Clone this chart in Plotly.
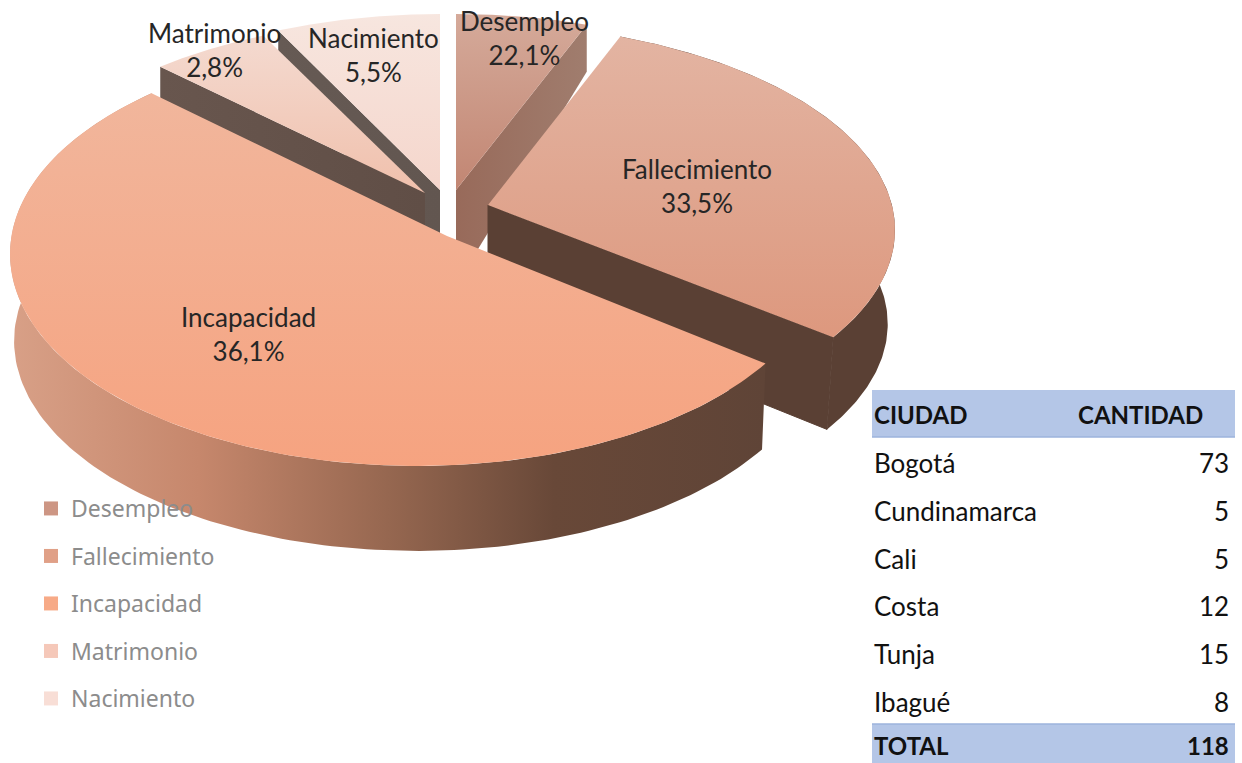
import numpy as np
import plotly.graph_objects as go

# ---- data ----
categories = ["Desempleo", "Fallecimiento", "Incapacidad", "Matrimonio", "Nacimiento"]
percent_labels = [22.1, 33.5, 36.1, 2.8, 5.5]
# The printed percentages do not match the drawn slices, so the drawn arcs are read separately.
arc_start_deg = [0.0, 20.9, 121.1, 322.0, 337.9]
arc_span_deg = [17.7, 100.3, 198.2, 15.9, 22.1]

table_header = ["CIUDAD", "CANTIDAD"]
cities = ["Bogotá", "Cundinamarca", "Cali", "Costa", "Tunja", "Ibagué"]
counts = [73, 5, 5, 12, 15, 8]
total_label = "TOTAL"
total_count = 118

# ---- style and geometry ----
W, H = 1242, 763
GEOM = {
    "Desempleo": dict(c=(456, 239), a=430, b=225, apex=(456, 190), rim_d=47, apex_d=95, k=1.0),
    "Fallecimiento": dict(c=(468, 230), a=427, b=207, apex=(488, 205), rim_d=94, apex_d=88, k=0.983),
    "Incapacidad": dict(c=(417, 254), a=407, b=212, apex=(447, 236), rim_d=87, apex_d=88, k=0.99),
    "Matrimonio": dict(c=(425, 244), a=430, b=225, apex=(425, 193), rim_d=32, apex_d=95, k=1.0),
    "Nacimiento": dict(c=(440, 239), a=430, b=225, apex=(440, 190), rim_d=32, apex_d=95, k=1.0),
}
TOP = {
    "Desempleo": ["rgb(213,170,154)", "rgb(194,134,115)"],
    "Fallecimiento": ["rgb(227,180,162)", "rgb(221,152,126)"],
    "Incapacidad": ["rgb(241,182,156)", "rgb(246,163,128)"],
    "Matrimonio": ["rgb(244,218,208)", "rgb(240,192,172)"],
    "Nacimiento": ["rgb(247,230,223)", "rgb(245,214,204)"],
}
SIDE = {
    "Desempleo": ["rgb(152,106,90)", "rgb(160,125,110)"],
    "Fallecimiento": ["rgb(90,64,52)", "rgb(90,64,52)"],
    "Matrimonio": ["rgb(104,86,78)", "rgb(96,78,70)"],
    "Nacimiento": ["rgb(102,90,84)", "rgb(98,86,80)"],
}
LEGEND_COL = ["rgb(205,150,132)", "rgb(224,160,135)", "rgb(247,170,135)", "rgb(245,200,185)", "rgb(248,222,214)"]
WALL_SCALE = [[0, "rgb(216,160,135)"], [0.25, "rgb(198,135,108)"], [0.5, "rgb(150,103,80)"],
              [0.72, "rgb(104,72,56)"], [1, "rgb(95,68,55)"]]
LABEL_POS = {"Desempleo": (524, 38), "Fallecimiento": (697, 186), "Incapacidad": (248, 334),
             "Matrimonio": (214, 50), "Nacimiento": (373, 55)}
LABEL_FONT = "Lato"
TABLE_FONT = "Lato"


def rim(g, t_deg, depth=0.0, k=1.0):
    t = np.radians(t_deg)
    return g["c"][0] + g["a"] * k * np.sin(t), g["c"][1] + depth - g["b"] * k * np.cos(t)


def poly(xs, ys, colors, kind, edge=None):
    if isinstance(colors[0], list):
        scale = colors
    elif kind == "vertical":
        # first colour is the top of the shape
        scale = [[0, colors[1]], [1, colors[0]]]
    else:
        scale = [[0, colors[0]], [1, colors[1]]]
    line = dict(width=1, color=edge) if edge else dict(width=0)
    return go.Scatter(x=list(xs), y=list(ys), mode="lines", fill="toself", line=line,
                      fillgradient=dict(type=kind, colorscale=scale),
                      hoverinfo="skip", showlegend=False)


fig = go.Figure()
draw_order = ["Desempleo", "Nacimiento", "Matrimonio", "Fallecimiento", "Incapacidad"]
for name in draw_order:
    i = categories.index(name)
    g = GEOM[name]
    ts = np.linspace(arc_start_deg[i], arc_start_deg[i] + arc_span_deg[i], 160)
    tx, ty = rim(g, ts)
    ax, ay = g["apex"]
    # outer wall
    if name in ("Fallecimiento", "Incapacidad"):
        bx, by = rim(g, ts, g["rim_d"], g["k"])
        colors = WALL_SCALE if name == "Incapacidad" else SIDE[name]
        fig.add_trace(poly(np.r_[tx, bx[::-1]], np.r_[ty, by[::-1]], colors, "horizontal"))
    # cut face
    edge_t = {"Desempleo": ts[-1], "Fallecimiento": ts[-1], "Matrimonio": ts[0], "Nacimiento": ts[0]}.get(name)
    if edge_t is not None:
        ex, ey = rim(g, edge_t)
        fx, fy = rim(g, edge_t, g["rim_d"], g["k"])
        edge = SIDE[name][0] if name == "Fallecimiento" else None
        fig.add_trace(poly([ax, ex, fx, ax, ax], [ay, ey, fy, ay + g["apex_d"], ay], SIDE[name], "horizontal", edge))
    # top face
    fig.add_trace(poly(np.r_[ax, tx], np.r_[ay, ty], TOP[name], "vertical"))

# legend entries
for name, col in zip(categories, LEGEND_COL):
    fig.add_trace(go.Scatter(x=[None], y=[None], mode="markers", name=name, legendgroup=name,
                             marker=dict(symbol="square", size=14, color=col)))

annotations = []
for name, pct in zip(categories, percent_labels):
    x, y = LABEL_POS[name]
    annotations.append(dict(x=x, y=y, xref="x", yref="y", showarrow=False, xanchor="center", yanchor="middle",
                            text=f"{name}<br>{pct:.1f}%".replace(".", ","),
                            font=dict(family=LABEL_FONT, size=26, color="#262626")))

shapes = [
    dict(type="rect", xref="x", yref="y", x0=872, x1=1235, y0=390, y1=437, fillcolor="#B4C6E7", line=dict(width=0), layer="below"),
    dict(type="rect", xref="x", yref="y", x0=872, x1=1235, y0=724, y1=763, fillcolor="#B4C6E7", line=dict(width=0), layer="below"),
    dict(type="line", xref="x", yref="y", x0=872, x1=1235, y0=437, y1=437, line=dict(width=1.5, color="#9DB3DC"), layer="below"),
    dict(type="line", xref="x", yref="y", x0=872, x1=1235, y0=724, y1=724, line=dict(width=1.5, color="#9DB3DC"), layer="below"),
]


def cell(text, x, y, anchor, bold=False):
    annotations.append(dict(x=x, y=y, xref="x", yref="y", showarrow=False, xanchor=anchor, yanchor="middle",
                            text=f"<b>{text}</b>" if bold else str(text),
                            font=dict(family=TABLE_FONT, size=24 if bold else 26, color="#111111")))


cell(table_header[0], 872, 414, "left", True)
cell(table_header[1], 1205, 414, "right", True)
for r, (city, n) in enumerate(zip(cities, counts)):
    yy = 463 + r * 47.8
    cell(city, 872, yy, "left")
    cell(n, 1231, yy, "right")
cell(total_label, 872, 745, "left", True)
cell(total_count, 1231, 745, "right", True)

fig.update_layout(
    width=W, height=H, margin=dict(l=0, r=0, t=0, b=0),
    paper_bgcolor="white", plot_bgcolor="white",
    xaxis=dict(range=[0, W], visible=False, fixedrange=True),
    yaxis=dict(range=[H, 0], visible=False, fixedrange=True),
    annotations=annotations, shapes=shapes,
    legend=dict(x=31 / W, y=1 - 487 / H, xanchor="left", yanchor="top", traceorder="grouped",
                tracegroupgap=14.6, font=dict(family="Noto Sans", size=23, color="#8c8c8c"),
                bgcolor="rgba(0,0,0,0)"),
)
fig.write_html("out.html", config=dict(displayModeBar=False), post_script="document.body.style.margin='0';")
